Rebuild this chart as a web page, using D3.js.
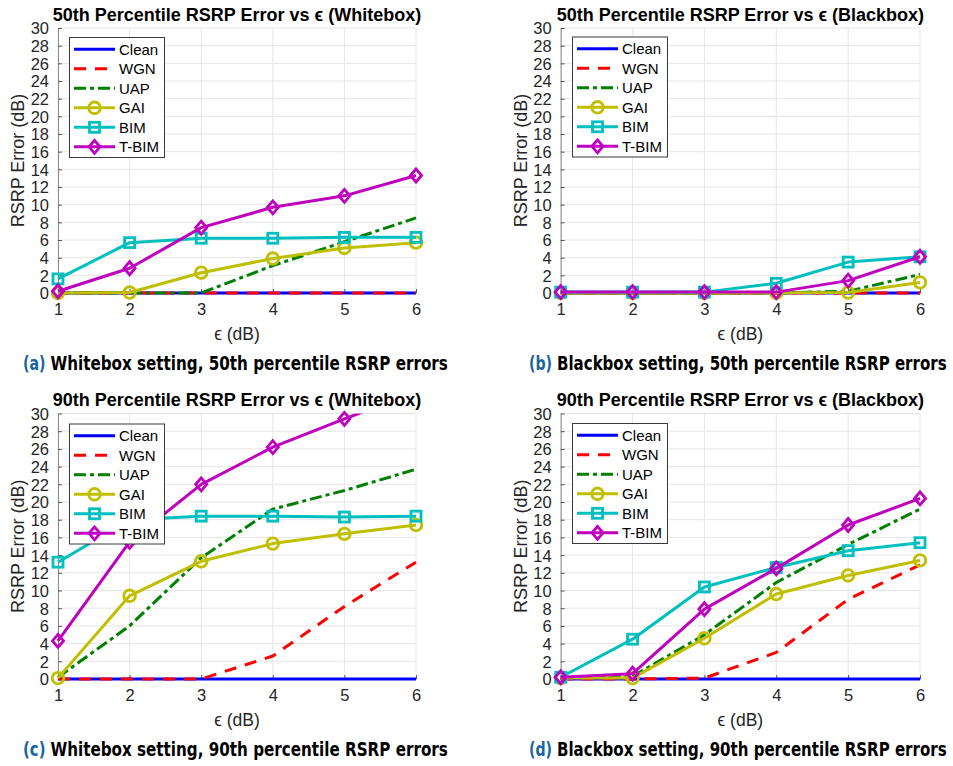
<!DOCTYPE html>
<html><head><meta charset="utf-8">
<script src="https://cdn.jsdelivr.net/npm/d3@7/dist/d3.min.js"></script>
<style>body{margin:0;background:#fff}svg{display:block}</style>
</head><body>
<script>
// ---------- data ----------
const epsilon = [1, 2, 3, 4, 5, 6];
const seriesNames = ["Clean", "WGN", "UAP", "GAI", "BIM", "T-BIM"];
const yTickValues = [0, 2, 4, 6, 8, 10, 12, 14, 16, 18, 20, 22, 24, 26, 28, 30];
const xTickValues = [1, 2, 3, 4, 5, 6];

// (a) Whitebox, 50th percentile
const wb50Clean = [0, 0, 0, 0, 0, 0];
const wb50WGN   = [0, 0, 0, 0, 0, 0];
const wb50UAP   = [0, 0, 0, 3.1, 5.8, 8.5];
const wb50GAI   = [0, 0.05, 2.3, 3.9, 5.1, 5.7];
const wb50BIM   = [1.6, 5.7, 6.2, 6.2, 6.3, 6.3];
const wb50TBIM  = [0.2, 2.8, 7.4, 9.7, 11.0, 13.3];

// (b) Blackbox, 50th percentile
const bb50Clean = [0, 0, 0, 0, 0, 0];
const bb50WGN   = [0, 0, 0, 0, 0, 0];
const bb50UAP   = [0, 0, 0, 0, 0.2, 2.1];
const bb50GAI   = [0, 0, 0, 0, 0.05, 1.2];
const bb50BIM   = [0.1, 0.1, 0.1, 1.1, 3.5, 4.1];
const bb50TBIM  = [0.1, 0.1, 0.1, 0.1, 1.4, 4.1];

// (c) Whitebox, 90th percentile
const wb90Clean = [0, 0, 0, 0, 0, 0];
const wb90WGN   = [0, 0, 0, 2.6, 8.2, 13.2];
const wb90UAP   = [0.2, 6.0, 13.7, 19.2, 21.3, 23.7];
const wb90GAI   = [0.1, 9.4, 13.3, 15.3, 16.4, 17.4];
const wb90BIM   = [13.2, 18.0, 18.4, 18.4, 18.3, 18.4];
const wb90TBIM  = [4.3, 15.5, 22.0, 26.2, 29.4, 32.4];

// (d) Blackbox, 90th percentile
const bb90Clean = [0, 0, 0, 0, 0, 0];
const bb90WGN   = [0, 0, 0.1, 3.0, 9.0, 12.9];
const bb90UAP   = [0.1, 0.3, 5.0, 10.9, 15.2, 19.2];
const bb90GAI   = [0.1, 0.1, 4.6, 9.6, 11.7, 13.4];
const bb90BIM   = [0.2, 4.5, 10.4, 12.6, 14.5, 15.4];
const bb90TBIM  = [0.2, 0.6, 7.9, 12.5, 17.4, 20.4];

const panelTitles = [
  "50th Percentile RSRP Error vs ϵ (Whitebox)",
  "50th Percentile RSRP Error vs ϵ (Blackbox)",
  "90th Percentile RSRP Error vs ϵ (Whitebox)",
  "90th Percentile RSRP Error vs ϵ (Blackbox)"
];
const captionLabels = ["(a)", "(b)", "(c)", "(d)"];
const captionTexts = [
  "Whitebox setting, 50th percentile RSRP errors",
  "Blackbox setting, 50th percentile RSRP errors",
  "Whitebox setting, 90th percentile RSRP errors",
  "Blackbox setting, 90th percentile RSRP errors"
];
const yLabel = "RSRP Error (dB)";
const xLabel = "ϵ (dB)";

// ---------- styles ----------
const styles = [
  {color: "#0000ff", dash: null, marker: null},
  {color: "#ff0000", dash: "12,9", marker: null},
  {color: "#008000", dash: "12,4,4,4", marker: null},
  {color: "#bfbf00", dash: null, marker: "circle"},
  {color: "#00bfbf", dash: null, marker: "square"},
  {color: "#bf00bf", dash: null, marker: "diamond"}
];

// ---------- layout ----------
const layout = [
  {data: [wb50Clean, wb50WGN, wb50UAP, wb50GAI, wb50BIM, wb50TBIM], x0: 58, x1: 416, yT: 28, yB: 293, lx: 69.5, ly: 37.5, cx: 23, cx2: 50.5, cEnd: 448},
  {data: [bb50Clean, bb50WGN, bb50UAP, bb50GAI, bb50BIM, bb50TBIM], x0: 560.7, x1: 920, yT: 28, yB: 293, lx: 572.5, ly: 37, cx: 529, cx2: 557, cEnd: 947},
  {data: [wb90Clean, wb90WGN, wb90UAP, wb90GAI, wb90BIM, wb90TBIM], x0: 58, x1: 416, yT: 413.5, yB: 679, lx: 69.5, ly: 424, cx: 23, cx2: 50.5, cEnd: 448},
  {data: [bb90Clean, bb90WGN, bb90UAP, bb90GAI, bb90BIM, bb90TBIM], x0: 560.7, x1: 920, yT: 413.5, yB: 679, lx: 572.5, ly: 423.5, cx: 529, cx2: 557, cEnd: 947}
];

const W = 953, H = 766;
const svg = d3.select("body").append("svg").attr("width", W).attr("height", H)
  .style("font-family", "'Liberation Sans', Arial, Helvetica, sans-serif");

function drawMarker(g, type, x, y, color) {
  if (type === "circle") {
    g.append("circle").attr("cx", x).attr("cy", y).attr("r", 5.8)
      .attr("fill", "none").attr("stroke", color).attr("stroke-width", 2.8);
  } else if (type === "square") {
    g.append("rect").attr("x", x - 5).attr("y", y - 5).attr("width", 10).attr("height", 10)
      .attr("fill", "none").attr("stroke", color).attr("stroke-width", 2.8);
  } else if (type === "diamond") {
    const s = 6.5;
    g.append("path").attr("d", `M${x},${y - s}L${x + s * 0.85},${y}L${x},${y + s}L${x - s * 0.85},${y}Z`)
      .attr("fill", "none").attr("stroke", color).attr("stroke-width", 2.8);
  }
}

// place a text so that it spans [x, x+target] horizontally at the given size, squeezing glyphs if needed
function fitText(t, xPos, yPos, target) {
  const w = t.node().getComputedTextLength();
  const sx = Math.min(1, target / w);
  t.attr("transform", `translate(${xPos},${yPos}) scale(${sx.toFixed(4)},1)`);
}

const capFont = "'Liberation Sans Narrow', 'DejaVu Sans Condensed', 'Noto Sans', sans-serif";

layout.forEach((p, pi) => {
  const x = d3.scaleLinear().domain([1, 6]).range([p.x0, p.x1]);
  const y = d3.scaleLinear().domain([0, 30]).range([p.yB, p.yT]);
  const g = svg.append("g");

  // grid
  g.append("g").selectAll("line").data(yTickValues).join("line")
    .attr("x1", p.x0).attr("x2", p.x1).attr("y1", d => y(d)).attr("y2", d => y(d))
    .attr("stroke", "#e6e6e6").attr("stroke-width", 1);
  g.append("g").selectAll("line").data(xTickValues).join("line")
    .attr("y1", p.yT).attr("y2", p.yB).attr("x1", d => x(d)).attr("x2", d => x(d))
    .attr("stroke", "#e6e6e6").attr("stroke-width", 1);

  // axes
  const yAxis = d3.axisLeft(y).tickValues(yTickValues).tickFormat(d3.format("d"))
    .tickSizeInner(-4).tickSizeOuter(0).tickPadding(9);
  const ya = g.append("g").attr("transform", `translate(${p.x0},0)`).call(yAxis);
  const xAxis = d3.axisBottom(x).tickValues(xTickValues).tickFormat(d3.format("d"))
    .tickSizeInner(-4).tickSizeOuter(0).tickPadding(10);
  const xa = g.append("g").attr("transform", `translate(0,${p.yB})`).call(xAxis);
  [ya, xa].forEach(a => {
    a.select(".domain").attr("stroke", "#8c8c8c").attr("stroke-width", 1);
    a.selectAll(".tick line").attr("stroke", "#555");
    a.selectAll("text").attr("fill", "#262626").style("font-size", "16.5px")
      .style("font-family", "'Liberation Sans', Arial, sans-serif");
  });
  ya.selectAll("text").attr("dy", "0.36em");
  xa.selectAll("text").attr("dy", "0.71em");

  // title
  g.append("text").attr("x", (p.x0 + p.x1) / 2).attr("y", p.yT - 7.5)
    .attr("text-anchor", "middle").style("font-size", "18px").style("font-weight", "bold")
    .attr("fill", "#000").text(panelTitles[pi]);

  // axis labels
  g.append("text").attr("transform", `translate(${p.x0 - 40},${(p.yT + p.yB) / 2}) rotate(-90)`)
    .attr("text-anchor", "middle").attr("dy", "0.35em").style("font-size", "18px")
    .attr("fill", "#262626").text(yLabel);
  g.append("text").attr("x", (p.x0 + p.x1) / 2).attr("y", p.yB + 47)
    .attr("text-anchor", "middle").style("font-size", "17.5px")
    .attr("fill", "#262626").text(xLabel);

  // clip
  const cid = "clip" + pi;
  svg.append("clipPath").attr("id", cid).append("rect")
    .attr("x", p.x0 - 8).attr("y", p.yT).attr("width", p.x1 - p.x0 + 16).attr("height", p.yB - p.yT + 8);

  const line = d3.line().x((d, i) => x(epsilon[i])).y(d => y(d));
  p.data.forEach((vals, si) => {
    const st = styles[si];
    g.append("path").datum(vals).attr("d", line).attr("clip-path", `url(#${cid})`)
      .attr("fill", "none").attr("stroke", st.color).attr("stroke-width", 3)
      .attr("stroke-dasharray", st.dash).attr("stroke-linejoin", "round");
    if (st.marker) {
      const mg = g.append("g");
      vals.forEach((v, i) => {
        if (v <= 30) drawMarker(mg, st.marker, x(epsilon[i]), y(v), st.color);
      });
    }
  });

  // legend
  const lg = g.append("g").attr("transform", `translate(${p.lx},${p.ly})`);
  lg.append("rect").attr("x", 0).attr("y", 0).attr("width", 95).attr("height", 120)
    .attr("fill", "#fff").attr("stroke", "#3a3a3a").attr("stroke-width", 1);
  seriesNames.forEach((name, si) => {
    const st = styles[si];
    const yy = 11.8 + si * 19.5;
    lg.append("line").attr("x1", 4.5).attr("x2", 45.5).attr("y1", yy).attr("y2", yy)
      .attr("stroke", st.color).attr("stroke-width", 3).attr("stroke-dasharray", st.dash);
    if (st.marker) drawMarker(lg, st.marker, 25, yy, st.color);
    lg.append("text").attr("x", 49.5).attr("y", yy).attr("dy", "0.36em")
      .style("font-size", "15px").attr("fill", "#000").text(name);
  });

  // caption
  const capY = p.yB + 77;
  const c1 = svg.append("text").attr("x", 0).attr("y", 0)
    .style("font-family", capFont).style("font-weight", "bold").style("font-size", "19px")
    .attr("fill", "#1b63a3").text(captionLabels[pi]);
  fitText(c1, p.cx, capY, p.cx2 - p.cx - 5);
  const c2 = svg.append("text").attr("x", 0).attr("y", 0)
    .style("font-family", capFont).style("font-weight", "bold").style("font-size", "19px")
    .attr("fill", "#000").text(captionTexts[pi]);
  fitText(c2, p.cx2, capY, p.cEnd - p.cx2);
});
</script>
</body></html>
